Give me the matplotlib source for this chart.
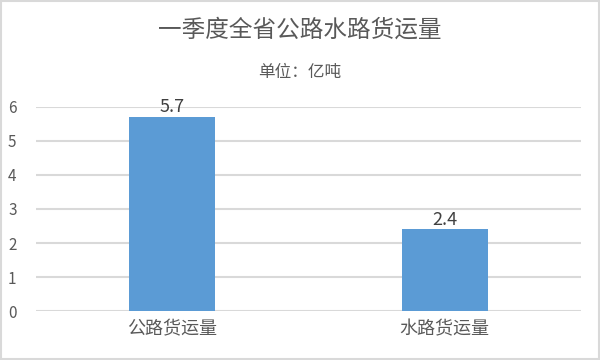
import matplotlib.pyplot as plt
from matplotlib.patches import Rectangle

plt.rcParams['font.family'] = ['Noto Sans CJK SC', 'DejaVu Sans']

# 数据
categories = ['公路货运量', '水路货运量']
values = [5.7, 2.4]
title = '一季度全省公路水路货运量'
subtitle = '单位：亿吨'

text_color = '#595959'
bar_color = '#5B9BD5'
grid_color = '#D9D9D9'

fig = plt.figure(figsize=(6, 3.6), dpi=100)
ax = fig.add_axes([0.06, 0.136, 0.908, 0.567])

x = range(len(categories))
bars = ax.bar(x, values, width=0.315, color=bar_color, zorder=3)

# 数值标签
for b, v in zip(bars, values):
    ax.text(b.get_x() + b.get_width() / 2, v + 0.02, str(v),
            ha='center', va='bottom', fontsize=13, color='#404040')

ax.set_xlim(-0.5, 1.5)
ax.set_ylim(0, 6)
ax.set_yticks(range(0, 7))
ax.set_xticks(list(x))
ax.set_xticklabels(categories, fontsize=13, color=text_color)
ax.tick_params(axis='y', labelsize=11, colors=text_color, length=0, pad=14)
ax.tick_params(axis='x', length=0, pad=7)
ax.yaxis.grid(True, color=grid_color, linewidth=1.5, zorder=0)
for s in ax.spines.values():
    s.set_visible(False)

fig.text(0.5, 0.915, title, ha='center', va='center', fontsize=17, color=text_color)
fig.text(0.5, 0.8, subtitle, ha='center', va='center', fontsize=12, color=text_color)

# 外框
fig.patches.append(Rectangle((0.002, 0.003), 0.996, 0.994, transform=fig.transFigure,
                             fill=False, edgecolor=grid_color, linewidth=1.5))

fig.savefig('out.png', dpi=100)
